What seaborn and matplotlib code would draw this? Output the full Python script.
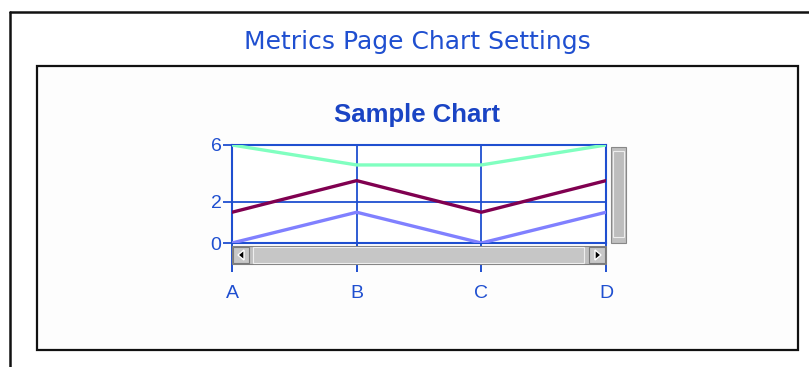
import numpy as np
import pandas as pd
import matplotlib
matplotlib.use("Agg")
import matplotlib.pyplot as plt
from matplotlib.patches import Rectangle, Polygon
from matplotlib.lines import Line2D
import seaborn as sns

# Chart data
categories = ["A", "B", "C", "D"]
series_names = ["Series 1", "Series 2", "Series 3"]
series_1 = [6.0, 4.6, 4.6, 6.0]
series_2 = [1.5, 3.5, 1.5, 3.5]
series_3 = [0.0, 1.5, 0.0, 1.5]
y_ticks = [0, 2, 6]
y_tick_labels = ["0", "2", "6"]

page_title = "Metrics Page Chart Settings"
chart_title = "Sample Chart"

colors = ["#80ffc0", "#800050", "#8080ff"]
BLUE = "#1f4fd0"

sns.set_theme(style="white")
plt.rcParams["font.family"] = ["Liberation Sans", "DejaVu Sans"]

W, H = 809, 367
fig = plt.figure(figsize=(W / 100, H / 100), dpi=100)
fig.patch.set_facecolor("white")


def px_rect(x0, y0, x1, y1):
    return [x0 / W, 1 - y1 / H, (x1 - x0) / W, (y1 - y0) / H]


def fx(x):
    return x / W


def fy(y):
    return 1 - y / H


# Page frame (left and top edges)
fig.add_artist(Line2D([fx(10), fx(10)], [fy(12), fy(H + 5)], color="#111111", lw=1.8))
fig.add_artist(Line2D([fx(10), fx(W + 5)], [fy(12), fy(12)], color="#111111", lw=1.8))

fig.text(fx(417), fy(42), page_title, ha="center", va="center", color=BLUE,
         fontsize=18, family=["DejaVu Sans"])

# Chart panel
fig.add_artist(Rectangle((fx(38), fy(351)), fx(761), (351 - 66) / H, transform=fig.transFigure,
                         facecolor="#9a9a9a", edgecolor="none", zorder=0.5))
fig.add_artist(Rectangle((fx(37), fy(350)), fx(761), (350 - 66) / H, transform=fig.transFigure,
                         facecolor="#fdfdfd", edgecolor="#111111", lw=1.6, zorder=0.6))

fig.text(fx(417), fy(115), chart_title, ha="center", va="center", color="#1a44c4",
         fontsize=18.5, fontweight="bold")

# Plot area
ax = fig.add_axes(px_rect(232, 145, 606, 243), zorder=2)
ax.set_facecolor("white")

df = pd.DataFrame({
    "category": categories * 3,
    "value": series_1 + series_2 + series_3,
    "series": [s for s in series_names for _ in categories],
})

# Value axis spacing: lower band 0-2 is stretched relative to 2-6
fwd = lambda v: np.interp(v, [0, 2, 6], [0, 41, 98], left=None, right=None)
inv = lambda v: np.interp(v, [0, 41, 98], [0, 2, 6])
ax.set_yscale("function", functions=(fwd, inv))

sns.lineplot(data=df, x="category", y="value", hue="series", palette=colors,
             linewidth=2.4, ax=ax, legend=False, sort=False, zorder=3)

ax.set_xlim(0, 3)
ax.set_ylim(0, 6)
ax.set_yticks(y_ticks)
ax.set_yticklabels(y_tick_labels)
ax.set_xticks(range(len(categories)))
ax.set_xticklabels(categories)
ax.set_xlabel("")
ax.set_ylabel("")
ax.grid(True, color=BLUE, lw=1.3)
ax.set_axisbelow(True)
for s in ax.spines.values():
    s.set_color(BLUE)
    s.set_linewidth(1.5)
ax.tick_params(axis="x", length=21, width=1.4, color=BLUE, labelcolor=BLUE,
               labelsize=14, pad=9, bottom=True)
ax.tick_params(axis="y", length=6.5, width=1.3, color=BLUE, labelcolor=BLUE,
               labelsize=14, pad=1, left=True)

# Horizontal scroll bar under the plot
z = 5
fig.add_artist(Rectangle((fx(232), fy(264)), fx(374), 18 / H, transform=fig.transFigure,
                         facecolor="#c0c0c0", edgecolor="#808080", lw=0.8, zorder=z))
for x0 in (233, 589):
    fig.add_artist(Rectangle((fx(x0), fy(263)), fx(16), 16 / H, transform=fig.transFigure,
                             facecolor="#c8c8c8", edgecolor="#7a7a7a", lw=0.8, zorder=z + 0.1))
fig.add_artist(Rectangle((fx(253), fy(263)), fx(331), 16 / H, transform=fig.transFigure,
                         facecolor="#c6c6c6", edgecolor="#eeeeee", lw=0.8, zorder=z + 0.1))
fig.add_artist(Polygon([[fx(244), fy(250)], [fx(244), fy(260)], [fx(238), fy(255)]],
                       closed=True, transform=fig.transFigure, facecolor="black", zorder=z + 0.2))
fig.add_artist(Polygon([[fx(595), fy(250)], [fx(595), fy(260)], [fx(601), fy(255)]],
                       closed=True, transform=fig.transFigure, facecolor="black", zorder=z + 0.2))

# Vertical scroll bar at the right
fig.add_artist(Rectangle((fx(611), fy(243)), fx(15), 96 / H, transform=fig.transFigure,
                         facecolor="#c0c0c0", edgecolor="#888888", lw=0.8, zorder=z))
fig.add_artist(Rectangle((fx(613), fy(237)), fx(11), 86 / H, transform=fig.transFigure,
                         facecolor="#bdbdbd", edgecolor="#eeeeee", lw=0.8, zorder=z + 0.1))

fig.savefig("out.png", dpi=100, facecolor="white")
